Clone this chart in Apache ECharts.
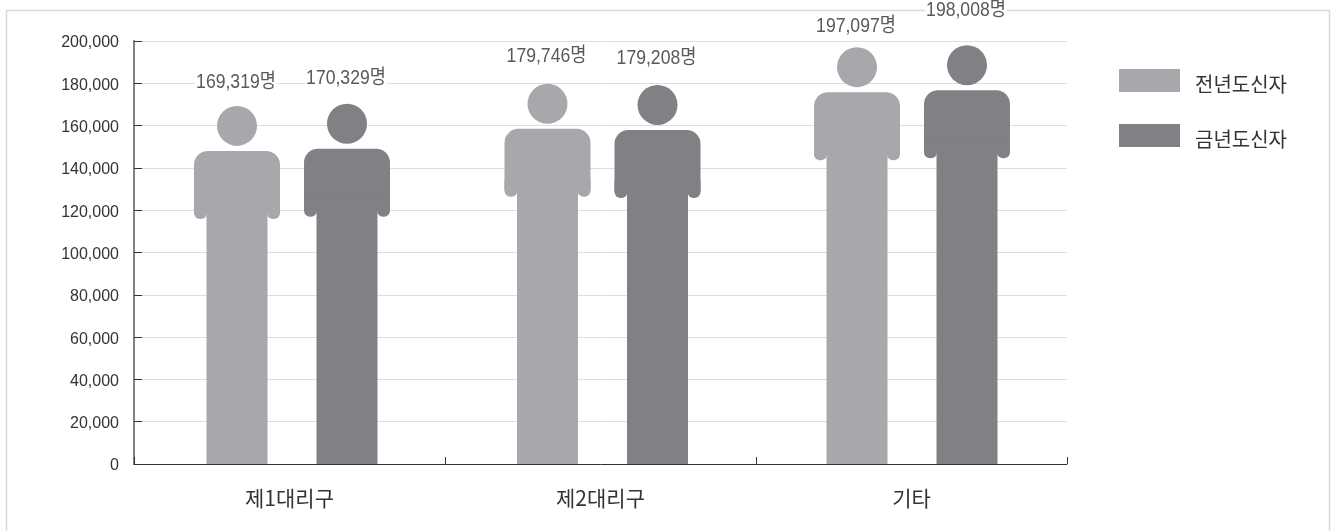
<!DOCTYPE html>
<html><head><meta charset="utf-8">
<style>html,body{margin:0;padding:0;background:#fff}#c{width:1335px;height:531px}</style>
<script src="https://cdn.jsdelivr.net/npm/echarts@6/dist/echarts.min.js"></script>
</head><body><div id="c"></div>
<script>
const categories = ['제1대리구', '제2대리구', '기타'];
const lastYear = [169319, 179746, 197097];
const thisYear = [170329, 179208, 198008];
const seriesNames = ['전년도신자', '금년도신자'];
const colors = ['#a7a8ab', '#808184'];
const FONT = '"Liberation Sans","Noto Sans CJK KR",sans-serif';
const HFONT = '"Noto Sans CJK KR",sans-serif';
// layout only: label lift above the head top, and small per-group x nudges
const labelLift = [[25, 29, 23], [27, 28, 37]];
const groupNudge = [0.5, 0, -1.5];

function person(seriesIdx, offset) {
  return function (params, api) {
    const i = api.value(0);
    const top = api.coord([i, api.value(1)]);
    const base = api.coord([i, 0]);
    const cx = top[0] + offset + groupNudge[i], y = top[1];
    const fill = {fill: colors[seriesIdx]};
    const text = api.value(1).toLocaleString('en-US') + '명';
    return {
      type: 'group',
      children: [
        {type: 'circle', shape: {cx: cx, cy: y + 20, r: 20}, style: fill},
        {type: 'rect', shape: {x: cx - 43, y: y + 45, width: 86, height: 62, r: [14, 14, 0, 0]}, style: fill},
        {type: 'rect', shape: {x: cx - 43, y: y + 95, width: 13, height: 18, r: [0, 0, 6, 6]}, style: fill},
        {type: 'rect', shape: {x: cx + 30, y: y + 95, width: 13, height: 18, r: [0, 0, 6, 6]}, style: fill},
        {type: 'rect', shape: {x: cx - 30.5, y: y + 95, width: 61, height: base[1] - y - 95}, style: fill},
        {type: 'text', x: cx - 1, y: y - labelLift[seriesIdx][i] + 2, scaleX: 0.88,
         style: {
          x: 0, y: 0, text: text, fill: '#58595b',
          font: '20px ' + FONT, align: 'center', verticalAlign: 'middle',
          backgroundColor: '#fff', padding: [0, 1]
        }}
      ]
    };
  };
}

const chart = echarts.init(document.getElementById('c'), null, {renderer: 'canvas'});
chart.setOption({
  animation: false,
  backgroundColor: '#fff',
  grid: {left: 134, right: 268, top: 41, height: 423},
  graphic: [{
    type: 'rect', z: -1, silent: true,
    shape: {x: 6.5, y: 10.5, width: 1323, height: 540},
    style: {fill: 'none', stroke: '#d9d9d9', lineWidth: 1.5}
  }],
  legend: {
    orient: 'vertical', left: 1114, top: 64, itemWidth: 61, itemHeight: 23, itemGap: 30,
    icon: 'rect', data: seriesNames,
    formatter: n => '{a|' + n + '}',
    textStyle: {rich: {a: {fontFamily: HFONT, fontSize: 20, color: '#333', padding: [7, 0, 0, 10]}}}
  },
  xAxis: {
    type: 'category', data: categories,
    axisLine: {lineStyle: {color: '#333', width: 1}},
    axisTick: {show: true, inside: true, length: 7, alignWithLabel: false, lineStyle: {color: '#333'}},
    axisLabel: {fontFamily: HFONT, fontSize: 21, color: '#333', margin: 24}
  },
  yAxis: {
    type: 'value', min: 0, max: 200000, interval: 20000,
    axisLine: {show: true, lineStyle: {color: '#808184', width: 2}},
    axisTick: {show: true, inside: true, length: 8, lineStyle: {color: '#333'}},
    axisLabel: {margin: 15,
      formatter: v => '{a|' + v.toLocaleString('en-US') + '}',
      rich: {a: {fontFamily: FONT, fontSize: 16, color: '#333', padding: [4, 0, 0, 0]}}},
    splitLine: {show: true, lineStyle: {color: '#dedede', width: 1}}
  },
  series: [
    {name: seriesNames[0], type: 'custom', clip: false, itemStyle: {color: colors[0]},
     renderItem: person(0, -53), encode: {x: 0, y: 1},
     data: lastYear.map((v, i) => [i, v])},
    {name: seriesNames[1], type: 'custom', clip: false, itemStyle: {color: colors[1]},
     renderItem: person(1, 57), encode: {x: 0, y: 1},
     data: thisYear.map((v, i) => [i, v])}
  ]
});
</script></body></html>
